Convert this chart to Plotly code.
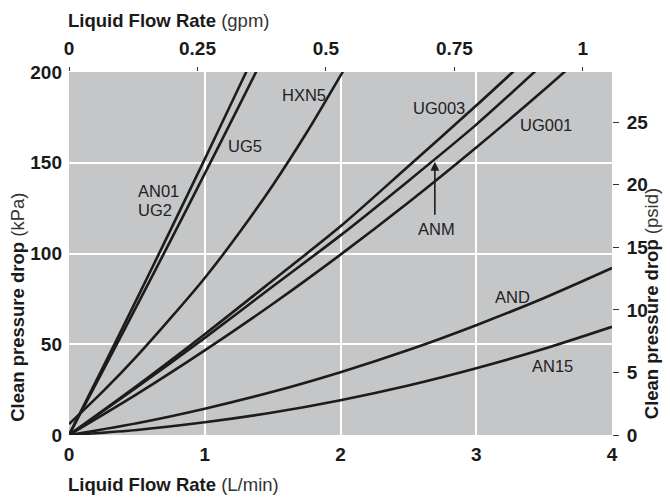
import plotly.graph_objects as go

# Liquid flow rate (L/min) sample points and clean pressure drop (kPa)
an01_x = [0, 0.25, 0.5, 0.75, 1.0, 1.25, 1.32]
an01_y = [0, 37.3, 75, 113.3, 152, 191.3, 202.3]

ug5_x = [0, 0.25, 0.5, 0.75, 1.0, 1.25, 1.4]
ug5_y = [0, 35.4, 71.3, 107.4, 144, 180.9, 203.3]

hxn5_x = [0, 0.25, 0.5, 0.75, 1.0, 1.25, 1.5, 1.75, 2.0, 2.1]
hxn5_y = [6, 24, 43.5, 64.5, 86.5, 111, 137.5, 166.5, 198, 211]

ug003_x = [0, 0.5, 1.0, 1.5, 2.0, 2.5, 3.0, 3.3]
ug003_y = [0, 27.1, 55.5, 85.1, 115, 148.1, 181.5, 202.1]

anm_x = [0, 0.5, 1.0, 1.5, 2.0, 2.5, 3.0, 3.45]
anm_y = [0, 26.3, 53.5, 81.8, 110, 140, 171, 201.5]

ug001_x = [0, 0.5, 1.0, 1.5, 2.0, 2.5, 3.0, 3.5, 3.7]
ug001_y = [0, 22.5, 46.6, 72.2, 99.4, 128.1, 158.4, 190.2, 203.4]

and_x = [0, 0.5, 1.0, 1.5, 2.0, 2.5, 3.0, 3.5, 4.0]
and_y = [0, 6.5, 14.5, 23.8, 34.6, 46.8, 60.5, 75.5, 92]

an15_x = [0, 0.5, 1.0, 1.5, 2.0, 2.5, 3.0, 3.5, 4.0]
an15_y = [0, 2.8, 7.0, 12.4, 19.2, 27.3, 36.8, 47.5, 59.6]

series = [
    ("AN01 / UG2", an01_x, an01_y),
    ("UG5", ug5_x, ug5_y),
    ("HXN5", hxn5_x, hxn5_y),
    ("UG003", ug003_x, ug003_y),
    ("ANM", anm_x, anm_y),
    ("UG001", ug001_x, ug001_y),
    ("AND", and_x, and_y),
    ("AN15", an15_x, an15_y),
]

# Axis ticks
lpm_ticks = [0, 1, 2, 3, 4]
gpm_ticks = [0, 0.25, 0.5, 0.75, 1]
gpm_labels = ["0", "0.25", "0.5", "0.75", "1"]
kpa_ticks = [0, 50, 100, 150, 200]
psi_ticks = [0, 5, 10, 15, 20, 25]

LPM_PER_GPM = 3.785
KPA_PER_PSI = 6.895
X_MAX = 4
Y_MAX = 200

# Curve labels: (text, x, y, xanchor)
labels = [
    ("AN01", 0.49, 134.3, "left"),
    ("UG2", 0.49, 124.1, "left"),
    ("UG5", 1.296, 159.1, "center"),
    ("HXN5", 1.73, 187.3, "center"),
    ("UG003", 2.724, 180.1, "center"),
    ("UG001", 3.513, 170.7, "center"),
    ("ANM", 2.71, 113.4, "center"),
    ("AND", 3.27, 75.9, "center"),
    ("AN15", 3.564, 37.9, "center"),
]
anm_arrow_head = (2.695, 150.5)
anm_arrow_tail = (2.695, 120.5)

TICK_FONT = dict(family="Liberation Sans, Arial, sans-serif",
                 size=19, color="#1a1a1a", weight="bold")
TITLE_FAMILY = "Liberation Sans, Arial, Helvetica, sans-serif"
LABEL_FONT = dict(family=TITLE_FAMILY, size=16.5, color="#222222")

fig = go.Figure()
for name, xs, ys in series:
    fig.add_trace(go.Scatter(x=xs, y=ys, mode="lines", name=name,
                             line=dict(color="#1c1c1c", width=2.6, shape="spline", smoothing=0.8),
                             showlegend=False, hoverinfo="skip", cliponaxis=True))

# invisible traces to activate secondary axes
fig.add_trace(go.Scatter(x=[0], y=[0], xaxis="x2", yaxis="y", mode="markers",
                         marker=dict(size=0, opacity=0), showlegend=False, hoverinfo="skip"))
fig.add_trace(go.Scatter(x=[0], y=[0], xaxis="x", yaxis="y2", mode="markers",
                         marker=dict(size=0, opacity=0), showlegend=False, hoverinfo="skip"))

annotations = []
for text, x, y, xa in labels:
    annotations.append(dict(x=x, y=y, xref="x", yref="y", text=text, showarrow=False,
                            xanchor=xa, yanchor="middle", font=LABEL_FONT))
annotations.append(dict(x=anm_arrow_head[0], y=anm_arrow_head[1], xref="x", yref="y",
                        ax=anm_arrow_tail[0], ay=anm_arrow_tail[1], axref="x", ayref="y",
                        text="", showarrow=True, arrowhead=2, arrowsize=1.1, arrowwidth=1.6,
                        arrowcolor="#1c1c1c", standoff=0, startstandoff=0))

def title_html(bold, light):
    return f"<b>{bold}</b> <span style='color:#333'>({light})</span>"

TITLE_FONT = dict(family=TITLE_FAMILY, size=18.5, color="#1a1a1a")
annotations += [
    dict(x=-0.006, y=1.143, xref="paper", yref="paper", xanchor="left", yanchor="middle",
         text=title_html("Liquid Flow Rate", "gpm"), showarrow=False, font=TITLE_FONT),
    dict(x=-0.006, y=-0.135, xref="paper", yref="paper", xanchor="left", yanchor="middle",
         text=title_html("Liquid Flow Rate", "L/min"), showarrow=False, font=TITLE_FONT),
    dict(x=-0.094, y=0.353, xref="paper", yref="paper", xanchor="center", yanchor="middle",
         text=title_html("Clean pressure drop", "kPa"), showarrow=False, textangle=-90,
         font=TITLE_FONT),
    dict(x=1.073, y=0.362, xref="paper", yref="paper", xanchor="center", yanchor="middle",
         text=title_html("Clean pressure drop", "psid"), showarrow=False, textangle=-90,
         font=TITLE_FONT),
]

fig.update_layout(
    width=670, height=499,
    margin=dict(l=69, r=58, t=72, b=64),
    paper_bgcolor="white",
    plot_bgcolor="#c5c6c8",
    showlegend=False,
    annotations=annotations,
    xaxis=dict(range=[0, X_MAX], tickvals=lpm_ticks, showgrid=True, gridcolor="white",
               gridwidth=1.5, zeroline=False, showline=False, ticks="",
               tickfont=TICK_FONT, ticklabelstandoff=6, fixedrange=True),
    yaxis=dict(range=[0, Y_MAX], tickvals=kpa_ticks, showgrid=True, gridcolor="white",
               gridwidth=1.5, zeroline=False, showline=False, ticks="",
               tickfont=TICK_FONT, ticklabelstandoff=6, fixedrange=True),
    xaxis2=dict(range=[0, X_MAX / LPM_PER_GPM], overlaying="x", side="top", anchor="y",
                tickvals=gpm_ticks, ticktext=gpm_labels, showgrid=False, zeroline=False,
                ticks="outside", ticklen=4, tickwidth=1, tickcolor="#333",
                tickfont=TICK_FONT, ticklabelstandoff=4, fixedrange=True),
    yaxis2=dict(range=[0, Y_MAX / KPA_PER_PSI], overlaying="y", side="right", anchor="x",
                tickvals=psi_ticks, showgrid=False, zeroline=False,
                ticks="outside", ticklen=6, tickwidth=1, tickcolor="#333",
                tickfont=TICK_FONT, ticklabelstandoff=4, fixedrange=True),
)

fig.write_html("out.html", config={"displayModeBar": False},
               post_script="document.body.style.margin='0px';")
